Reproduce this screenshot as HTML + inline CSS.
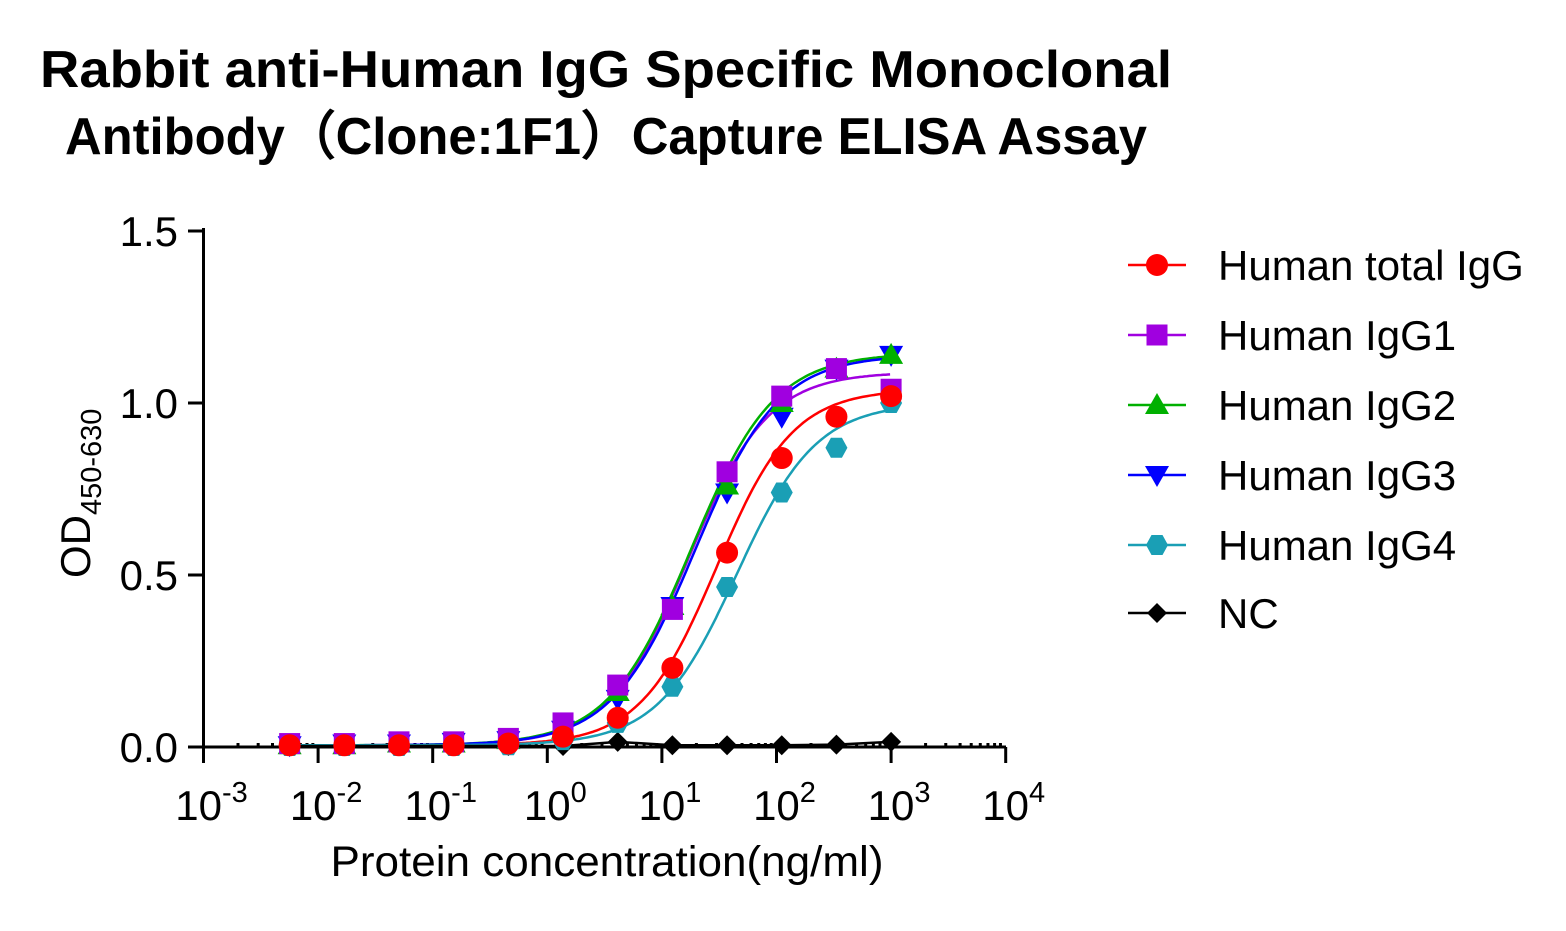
<!DOCTYPE html>
<html><head><meta charset="utf-8"><style>
body{margin:0;background:#fff}
svg text{font-family:"Liberation Sans",Arial,sans-serif}
</style></head><body>
<svg id="s" width="1566" height="926" xmlns="http://www.w3.org/2000/svg">
<text x="40" y="87" font-size="52" font-weight="bold" textLength="1132" lengthAdjust="spacingAndGlyphs">Rabbit anti-Human IgG Specific Monoclonal</text>
<text x="65" y="154" font-size="52" font-weight="bold" textLength="1082" lengthAdjust="spacingAndGlyphs">Antibody（Clone:1F1）Capture ELISA Assay</text>
<g id="ax" stroke="#000" stroke-width="3" fill="none"></g>
<g id="lab" font-size="42"></g>
<text x="607" y="876" text-anchor="middle" font-size="43" textLength="553" lengthAdjust="spacingAndGlyphs">Protein concentration(ng/ml)</text>
<text transform="translate(90,578) rotate(-90)" font-size="42">OD<tspan font-size="29" dy="11">450-630</tspan></text>
<g id="d"></g>
<g id="lg" font-size="42"></g>
</svg>
<script>
const NS="http://www.w3.org/2000/svg";
const X=l=>203.5+(Math.log10(l)+3)*114.6, Y=v=>747-v*344;
function el(p,t,a,txt){const e=document.createElementNS(NS,t);for(const k in a)e.setAttribute(k,a[k]);if(txt!=null)e.innerHTML=txt;p.appendChild(e);return e;}
const ax=document.getElementById('ax'),lab=document.getElementById('lab');
el(ax,'path',{d:'M203.5 228V747H1006'});
for(let i=0;i<=3;i++){const y=Y(i*0.5);el(ax,'line',{x1:188,x2:203.5,y1:y,y2:y});el(lab,'text',{x:178,y:y+15,'text-anchor':'end'},(i*0.5).toFixed(1));}
for(let e=-3;e<=4;e++){const x=203.5+(e+3)*114.6;el(ax,'line',{x1:x,x2:x,y1:747,y2:763});
el(lab,'text',{x:x+8,y:820,'text-anchor':'middle'},'10<tspan font-size="29" dy="-18">'+e+'</tspan>');
if(e<4)for(let m=2;m<10;m++){const xm=x+Math.log10(m)*114.6;el(ax,'line',{x1:xm,x2:xm,y1:747,y2:743,'stroke-width':3});}}
const xs=[];for(let i=11;i>=0;i--)xs.push(1000/Math.pow(3,i));
const S=[
{c:'#ff0000',m:'c',top:1.04,ec:30,h:1.3,v:[.005,.005,.005,.005,.01,.03,.085,.23,.565,.84,.96,1.02]},
{c:'#a000e0',m:'s',top:1.09,ec:17,h:1.25,v:[.01,.01,.015,.015,.025,.07,.18,.40,.80,1.02,1.10,1.04]},
{c:'#00b000',m:'t',top:1.145,ec:18,h:1.2,v:[.005,.005,.01,.01,.02,.05,.16,.41,.76,1.0,1.1,1.14]},
{c:'#0000ff',m:'v',top:1.14,ec:19.5,h:1.2,v:[.005,.01,.01,.015,.02,.05,.14,.41,.74,.96,1.1,1.14]},
{c:'#1a9fb5',m:'h',top:1.0,ec:45,h:1.25,v:[.003,.003,.003,.003,.005,.02,.07,.175,.465,.74,.87,1.0]},
{c:'#000',m:'d',v:[.003,.003,.003,.003,.003,.003,.015,.005,.005,.005,.007,.015]}];
const d=document.getElementById('d'),lg=document.getElementById('lg');
function mk(p,m,x,y,c){
 if(m=='c')el(p,'circle',{cx:x,cy:y,r:11,fill:c});
 else if(m=='s')el(p,'rect',{x:x-10.5,y:y-10.5,width:21,height:21,fill:c});
 else if(m=='t')el(p,'polygon',{points:`${x},${y-12} ${x+12},${y+9} ${x-12},${y+9}`,fill:c});
 else if(m=='v')el(p,'polygon',{points:`${x},${y+12} ${x+12},${y-9} ${x-12},${y-9}`,fill:c});
 else if(m=='h')el(p,'polygon',{points:`${x-11},${y} ${x-5.5},${y-10} ${x+5.5},${y-10} ${x+11},${y} ${x+5.5},${y+10} ${x-5.5},${y+10}`,fill:c});
 else el(p,'polygon',{points:`${x},${y-10} ${x+10},${y} ${x},${y+10} ${x-10},${y}`,fill:c});
}
S.forEach(s=>{
 let pd='';
 if(s.top){for(let l=Math.log10(xs[0]);l<=3.001;l+=0.02){const c=Math.pow(10,l);const v=0.005+(s.top-0.005)/(1+Math.pow(s.ec/c,s.h));pd+=(pd?'L':'M')+X(c).toFixed(1)+' '+Y(v).toFixed(1);}}
 else xs.forEach((c,i)=>pd+=(i?'L':'M')+X(c)+' '+Y(s.v[i]));
 el(d,'path',{d:pd,stroke:s.c,'stroke-width':2.5,fill:'none'});
});
[5,4,3,2,1,0].forEach(k=>{const s=S[k];xs.forEach((c,i)=>mk(d,s.m,X(c),Y(s.v[i]),s.c));});
const names=['Human total IgG','Human IgG1','Human IgG2','Human IgG3','Human IgG4','NC'];
const ly=[265,335,405,475,545,613];
S.forEach((s,i)=>{el(lg,'line',{x1:1128,x2:1186,y1:ly[i],y2:ly[i],stroke:s.c,'stroke-width':2.5});mk(lg,s.m,1157,ly[i],s.c);el(lg,'text',{x:1218,y:ly[i]+15},names[i]);});
</script>
</body></html>
